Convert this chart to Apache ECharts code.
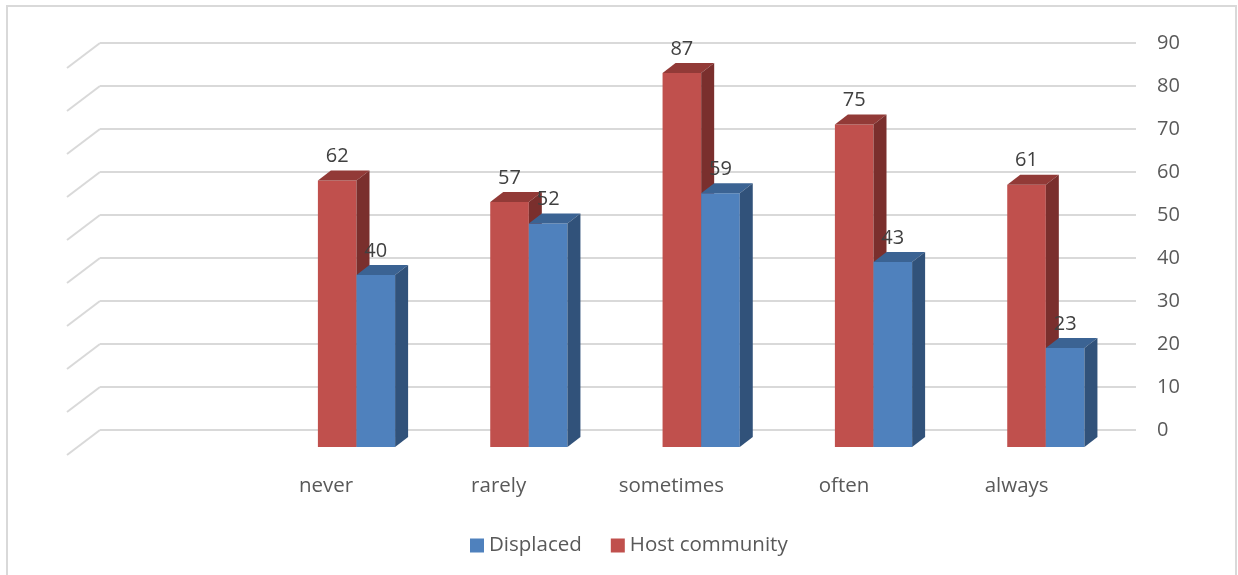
<!DOCTYPE html>
<html>
<head>
<meta charset="utf-8">
<script src="https://cdn.jsdelivr.net/npm/echarts@6/dist/echarts.min.js"></script>
<style>
  html, body { margin: 0; padding: 0; background: #fff; }
  #chart { width: 1238px; height: 575px; }
</style>
</head>
<body>
<div id="chart"></div>
<script>
// first slot is empty, as in the original sheet
var categories = ['', 'never', 'rarely', 'sometimes', 'often', 'always'];
var hostCommunity = [null, 62, 57, 87, 75, 61];
var displaced = [null, 40, 52, 59, 43, 23];
var yTicks = [0, 10, 20, 30, 40, 50, 60, 70, 80, 90];

var FONT = 'Open Sans';
var depthX = 13, depthY = 10;   // bar depth offset
var wallX = 33, wallY = 25;     // side wall depth

var faces = {
    host: { front: '#C0504D', top: '#923A37', side: '#7A2F2D' },
    displaced: { front: '#4F81BD', top: '#3B6393', side: '#31527A' }
};

function toPairs(arr) {
    var out = [];
    arr.forEach(function (v, i) { if (v != null) out.push([i, v]); });
    return out;
}

function barRenderer(slot, col) {
    return function (params, api) {
        var idx = api.value(0), val = api.value(1);
        var topPt = api.coord([idx, val]);
        var basePt = api.coord([idx, 0]);
        var band = api.size([1, 0])[0];
        var w = band * 0.224;
        var x0 = topPt[0] - w + slot * w;
        var top = topPt[1], base = basePt[1];
        return {
            type: 'group',
            children: [
                { type: 'rect', shape: { x: x0, y: top, width: w, height: base - top },
                  style: { fill: col.front } },
                { type: 'polygon', shape: { points: [[x0, top], [x0 + depthX, top - depthY], [x0 + w + depthX, top - depthY], [x0 + w, top]] },
                  style: { fill: col.top } },
                { type: 'polygon', shape: { points: [[x0 + w, top], [x0 + w + depthX, top - depthY], [x0 + w + depthX, base - depthY], [x0 + w, base]] },
                  style: { fill: col.side } },
                { type: 'text', x: x0 + w / 2, y: top - 24,
                  style: { text: String(val), fill: '#404040', font: '20px ' + FONT, align: 'center', verticalAlign: 'middle' } }
            ]
        };
    };
}

var chart = echarts.init(document.getElementById('chart'));

var option = {
    backgroundColor: '#fff',
    animation: false,
    textStyle: { fontFamily: FONT },
    graphic: [{
        type: 'rect', silent: true, z: -10,
        shape: { x: 7, y: 6, width: 1229, height: 600 },
        style: { fill: 'none', stroke: '#D9D9D9', lineWidth: 2 }
    }],
    legend: {
        data: ['Displaced', 'Host community'],
        icon: 'rect',
        itemWidth: 14, itemHeight: 14,
        itemGap: 29,
        left: 465, top: 530,
        textStyle: { fontSize: 20.5, color: '#595959', fontFamily: FONT }
    },
    grid: [
        // back wall
        { left: 100, right: 102, top: 43, bottom: 145 },
        // bar front plane
        { left: 98, right: 106, top: 60, bottom: 128 },
        // floor front edge, for category labels
        { left: 67, right: 135, top: 60, bottom: 120 }
    ],
    xAxis: [
        { gridIndex: 0, type: 'value', min: 0, max: 1, show: false },
        { gridIndex: 1, type: 'category', data: categories, show: false },
        { gridIndex: 2, type: 'category', data: categories,
          axisLine: { show: false }, axisTick: { show: false },
          axisLabel: { margin: 21, fontSize: 20.5, color: '#595959', fontFamily: FONT, interval: 0 } }
    ],
    yAxis: [
        { gridIndex: 0, type: 'value', position: 'right', min: 0, max: 90, interval: 10,
          axisLine: { show: false }, axisTick: { show: false },
          axisLabel: { margin: 21, fontSize: 20, color: '#595959', fontFamily: FONT },
          splitLine: { lineStyle: { color: '#D9D9D9', width: 2 } } },
        { gridIndex: 1, type: 'value', min: 0, max: 90, show: false },
        { gridIndex: 2, type: 'value', min: 0, max: 90, show: false }
    ],
    series: [
        {
            name: 'wall',
            type: 'custom',
            xAxisIndex: 0, yAxisIndex: 0,
            silent: true,
            data: yTicks.map(function (t) { return [0, t]; }),
            renderItem: function (params, api) {
                var p = api.coord([0, api.value(1)]);
                return { type: 'line',
                    shape: { x1: p[0], y1: p[1], x2: p[0] - wallX, y2: p[1] + wallY },
                    style: { stroke: '#D9D9D9', lineWidth: 2 } };
            }
        },
        {
            name: 'Host community',
            type: 'custom',
            xAxisIndex: 1, yAxisIndex: 1,
            itemStyle: { color: faces.host.front },
            data: toPairs(hostCommunity),
            renderItem: barRenderer(0, faces.host)
        },
        {
            name: 'Displaced',
            type: 'custom',
            xAxisIndex: 1, yAxisIndex: 1,
            itemStyle: { color: faces.displaced.front },
            data: toPairs(displaced),
            renderItem: barRenderer(1, faces.displaced)
        }
    ]
};

chart.setOption(option);
</script>
</body>
</html>
